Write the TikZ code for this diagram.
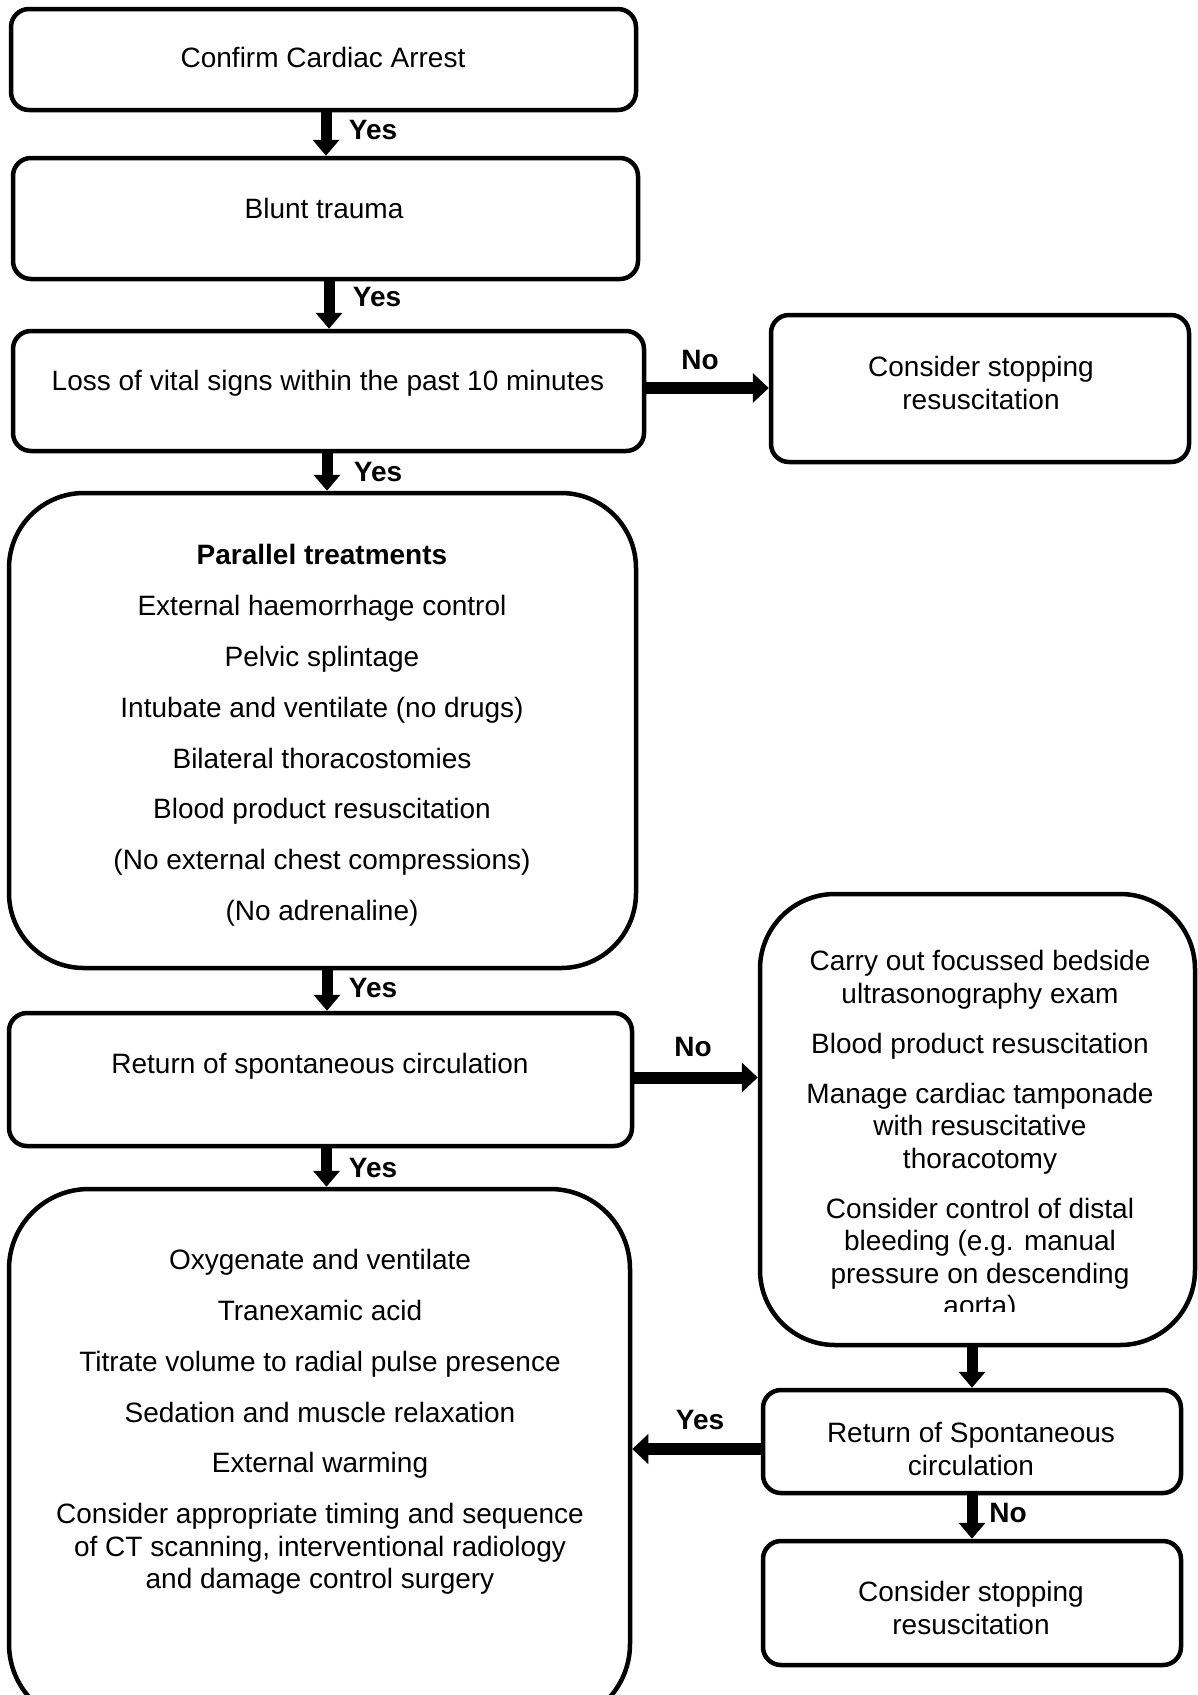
\documentclass[tikz,border=0pt]{standalone}
\usepackage{fontspec}
\setmainfont{Liberation Sans}
\usetikzlibrary{arrows.meta}
\tikzset{
  box/.style={draw, line width=4.5pt, rounded corners=18pt, inner sep=0pt},
  bigbox/.style={box, rounded corners=75pt},
  txt/.style={font=\fontsize{28}{32.5}\selectfont, align=center, inner sep=0pt},
  lbl/.style={font=\fontsize{28}{32.5}\selectfont\bfseries, inner sep=0pt},
  varr/.style={line width=11pt, -{Triangle[length=16pt,width=26pt]}},
  harr/.style={line width=12pt, -{Triangle[length=16pt,width=29pt]}},
}
\begin{document}
\begin{tikzpicture}[x=1pt,y=-1pt]
\useasboundingbox (0,0) rectangle (1198,1695);
\clip (0,0) rectangle (1198,1695);

% boxes
\node[box, minimum width=625pt, minimum height=101pt] (b1) at (323.5,59.5) {};
\node[box, minimum width=625pt, minimum height=121pt] (b2) at (325.5,218.5) {};
\node[box, minimum width=631pt, minimum height=120pt] (b3) at (328.5,391) {};
\node[box, minimum width=418pt, minimum height=147pt] (b4) at (980,388.5) {};
\node[bigbox, minimum width=627pt, minimum height=475pt] (b5) at (322.5,730.5) {};
\node[box, minimum width=623pt, minimum height=133pt] (b6) at (320.5,1079.5) {};
\node[bigbox, minimum width=435pt, minimum height=451pt] (b7) at (977.5,1119.5) {};
\node[box, minimum width=418pt, minimum height=103pt] (b8) at (972,1441.5) {};
\node[box, minimum width=418pt, minimum height=124pt] (b9) at (972,1603) {};
\node[bigbox, rounded corners=80pt, minimum width=621pt, minimum height=535pt] (b10) at (319.5,1456.5) {};

% texts
\node[txt] (t1) at (323,57) {Confirm Cardiac Arrest};
\node[txt] (t2) at (324,208) {Blunt trauma};
\node[txt] (t3) at (328,383) {Loss of vital signs within the past 10 minutes};
\node[txt] (t4) at (981,383) {Consider stopping\\resuscitation};
\node[txt] (t5) at (322,735.5) {\textbf{Parallel treatments}\\[18.3pt]
  External haemorrhage control\\[18.3pt]
  Pelvic splintage\\[18.3pt]
  Intubate and ventilate (no drugs)\\[18.3pt]
  Bilateral thoracostomies\\[18.3pt]
  Blood product resuscitation\\[18.3pt]
  (No external chest compressions)\\[18.3pt]
  (No adrenaline)};
\node[txt] (t6) at (320,1066) {Return of spontaneous circulation};
\begin{scope}
\clip (700,880) rectangle (1198,1311);
\node[txt] (t7) at (980,1136) {Carry out focussed bedside\\ultrasonography exam\\[17.5pt]
  Blood product resuscitation\\[17.5pt]
  Manage cardiac tamponade\\with resuscitative\\thoracotomy\\[17.5pt]
  Consider control of distal\\bleeding (e.g. manual\\pressure on descending\\aorta)};
\end{scope}
\node[txt] (t8) at (971,1449) {Return of Spontaneous\\circulation};
\node[txt] (t9) at (971,1608) {Consider stopping\\resuscitation};
\node[txt] (t10) at (320,1422) {Oxygenate and ventilate\\[18.3pt]
  Tranexamic acid\\[18.3pt]
  Titrate volume to radial pulse presence\\[18.3pt]
  Sedation and muscle relaxation\\[18.3pt]
  External warming\\[18.3pt]
  Consider appropriate timing and sequence\\of CT scanning, interventional radiology\\and damage control surgery};

% labels
\node[lbl] (l1) at (373,130) {Yes};
\node[lbl] (l2) at (377,297) {Yes};
\node[lbl] (l3) at (378,472) {Yes};
\node[lbl] (l4) at (373,988) {Yes};
\node[lbl] (l5) at (373,1168) {Yes};
\node[lbl] (n1) at (700,360) {No};
\node[lbl] (n2) at (693,1047) {No};
\node[lbl] (l6) at (700,1420) {Yes};
\node[lbl] (n3) at (1008,1513) {No};

% connectors
\draw[varr] ([xshift=2.5pt]b1.south) -- ([xshift=2.5pt]b1.south |- b2.north);
\draw[varr] ([xshift=3.5pt]b2.south) -- ([xshift=3.5pt]b2.south |- b3.north);
\draw[varr] ([xshift=-1.5pt]b3.south) -- ([xshift=-1.5pt]b3.south |- b5.north);
\draw[varr] ([xshift=4.5pt]b5.south) -- ([xshift=4.5pt]b5.south |- b6.north);
\draw[varr] ([xshift=6pt]b6.south) -- ([xshift=6pt]b6.south |- b10.north);
\draw[varr] (b8.north |- b7.south) -- (b8.north);
\draw[varr] (b8.south) -- (b9.north);
\draw[harr] ([yshift=3pt]b3.east) -- ([yshift=3pt]b3.east -| b4.west);
\draw[harr] ([yshift=2pt]b6.east) -- ([yshift=2pt]b6.east -| b7.west);
\draw[harr] ([yshift=-7.5pt]b8.west) -- ([yshift=-7.5pt]b8.west -| b10.east);
\end{tikzpicture}
\end{document}
